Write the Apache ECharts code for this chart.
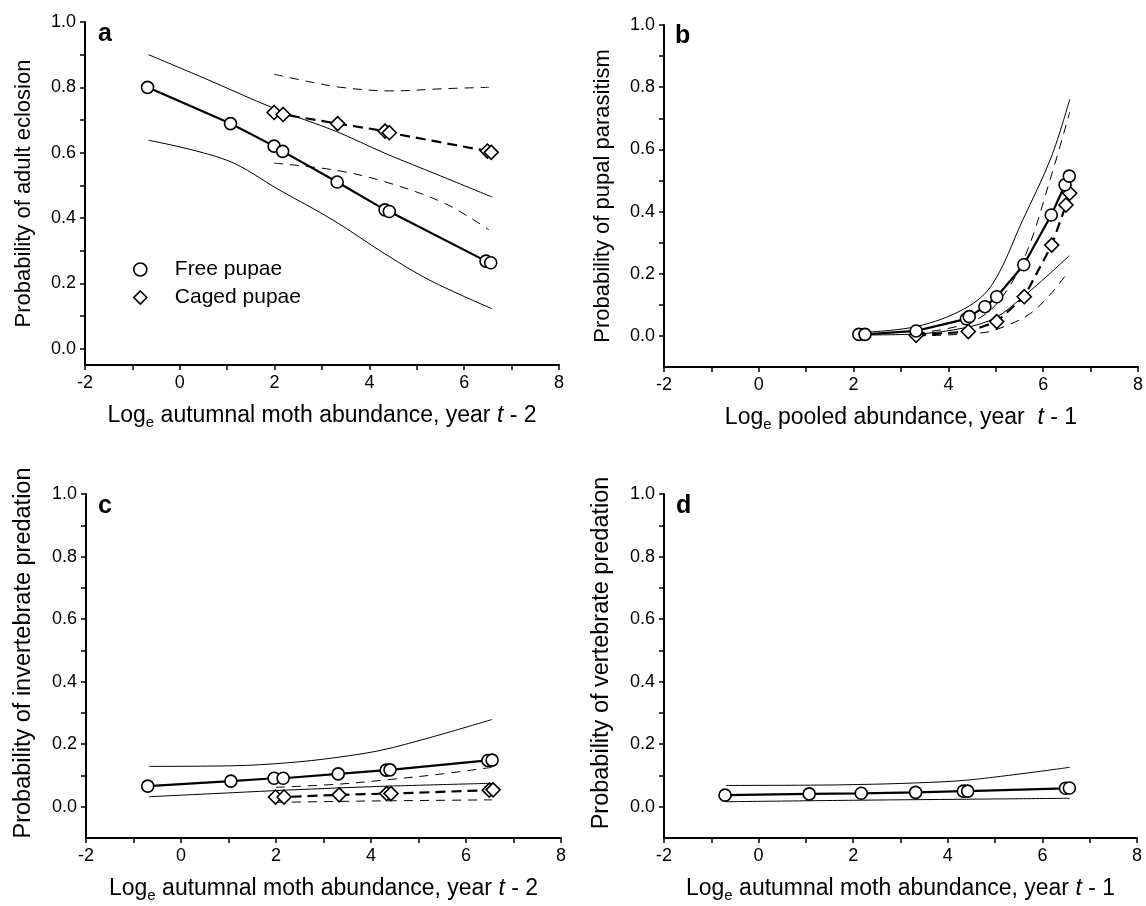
<!DOCTYPE html>
<html>
<head>
<meta charset="utf-8">
<script src="https://cdn.jsdelivr.net/npm/echarts@6/dist/echarts.min.js"></script>
<style>
html,body{margin:0;padding:0;background:#fff;}
#chart{width:1146px;height:906px;}
</style>
</head>
<body>
<div id="chart"></div>
<script>
// ---------- tick values ----------
const xTicks = [-2, -1, 0, 1, 2, 3, 4, 5, 6, 7, 8];
const xLabels = [-2, 0, 2, 4, 6, 8];
const yTicks = [0, 0.1, 0.2, 0.3, 0.4, 0.5, 0.6, 0.7, 0.8, 0.9, 1.0];
const yLabels = [0, 0.2, 0.4, 0.6, 0.8, 1.0];

// ---------- panel a : adult eclosion ----------
const aFree = [[-0.68,0.800],[1.07,0.689],[1.99,0.620],[2.17,0.604],[3.32,0.510],[4.33,0.425],[4.42,0.420],[6.46,0.268],[6.56,0.263]];
const aFreeUpper = [[-0.66,0.900],[0.5,0.829],[2.0,0.735],[3.3,0.665],[4.33,0.598],[5.5,0.529],[6.59,0.464]];
const aFreeLower = [[-0.66,0.638],[0.99,0.577],[2.11,0.485],[3.24,0.393],[4.33,0.290],[5.28,0.209],[6.59,0.122]];
const aCaged = [[1.99,0.723],[2.18,0.717],[3.33,0.689],[4.33,0.666],[4.42,0.661],[6.49,0.605],[6.57,0.601]];
const aCagedUpper = [[1.99,0.840],[2.7,0.818],[3.4,0.800],[4.44,0.789],[5.6,0.796],[6.52,0.800]];
const aCagedLower = [[1.99,0.568],[3.3,0.546],[4.35,0.510],[5.6,0.444],[6.52,0.364]];

// ---------- panel b : pupal parasitism ----------
const bFree = [[2.11,0.005],[2.24,0.005],[3.32,0.016],[4.38,0.055],[4.44,0.062],[4.77,0.094],[5.02,0.126],[5.59,0.229],[6.17,0.389],[6.46,0.486],[6.55,0.514]];
const bFreeUpper = [[2.12,0.011],[3.32,0.030],[4.37,0.090],[4.93,0.167],[5.56,0.370],[6.17,0.575],[6.56,0.761]];
const bFreeLower = [[2.2,0.003],[3.32,0.006],[4.37,0.027],[5.0,0.059],[5.56,0.124],[6.1,0.195],[6.55,0.258]];
const bCaged = [[3.32,0.002],[4.42,0.014],[5.02,0.046],[5.6,0.126],[6.18,0.292],[6.48,0.421],[6.56,0.459]];
const bCagedUpper = [[3.32,0.008],[4.4,0.040],[5.0,0.100],[5.6,0.250],[6.18,0.520],[6.56,0.720]];
const bCagedLower = [[3.32,0.000],[4.76,0.011],[5.21,0.032],[5.71,0.070],[6.13,0.130],[6.55,0.210]];

// ---------- panel c : invertebrate predation ----------
const cFree = [[-0.70,0.066],[1.05,0.082],[1.96,0.091],[2.15,0.091],[3.31,0.105],[4.32,0.117],[4.40,0.118],[6.46,0.148],[6.55,0.149]];
const cFreeUpper = [[-0.67,0.129],[1.1,0.131],[2.2,0.140],[3.3,0.158],[4.4,0.187],[6.55,0.279]];
const cFreeLower = [[-0.67,0.032],[1.1,0.045],[2.2,0.053],[3.3,0.060],[4.4,0.066],[6.55,0.075]];
const cCaged = [[1.99,0.031],[2.17,0.031],[3.33,0.038],[4.33,0.042],[4.42,0.042],[6.49,0.053],[6.57,0.054]];
const cCagedUpper = [[2.0,0.062],[3.3,0.072],[4.33,0.086],[5.5,0.105],[6.55,0.126]];
const cCagedLower = [[2.0,0.014],[3.3,0.017],[4.4,0.019],[6.55,0.022]];

// ---------- panel d : vertebrate predation ----------
const dFree = [[-0.71,0.037],[1.07,0.041],[2.17,0.043],[3.32,0.046],[4.33,0.050],[4.42,0.050],[6.49,0.059],[6.57,0.060]];
const dFreeUpper = [[-0.69,0.068],[1.1,0.069],[2.1,0.071],[3.3,0.076],[4.47,0.086],[6.58,0.126]];
const dFreeLower = [[-0.69,0.016],[2.2,0.021],[4.4,0.024],[6.58,0.027]];

// ---------- texts ----------
const yTitles = ['Probability of adult eclosion','Probability of pupal parasitism','Probability of invertebrate predation','Probability of vertebrate predation'];
const xTitles = [
  '{n|Log}{s|e}{n| autumnal moth abundance, year }{i|t}{n| - 2}',
  '{n|Log}{s|e}{n| pooled abundance, year  }{i|t}{n| - 1}',
  '{n|Log}{s|e}{n| autumnal moth abundance, year }{i|t}{n| - 2}',
  '{n|Log}{s|e}{n| autumnal moth abundance, year }{i|t}{n| - 1}'
];
const panelLetters = ['a','b','c','d'];
const legendNames = ['Free pupae','Caged pupae'];

const FONT = '"Liberation Sans", Arial, Helvetica, sans-serif';
const grids = [
  {left:85, top:22, width:474, height:343},
  {left:664, top:25, width:475, height:342},
  {left:86, top:494, width:475, height:344},
  {left:664, top:494, width:473, height:344}
];
const yMins = [-0.05, -0.1, -0.1, -0.1];
const yTitleSize = [22, 22, 23.5, 23.5];
const yTitlePad = [[0,0,0,0],[0,0,0,0],[0,0,0,26],[0,0,0,26]];

const rich = {
  n:{fontSize:23, fontFamily:FONT, color:'#000'},
  s:{fontSize:15, fontFamily:FONT, color:'#000', padding:[13,0,0,0]},
  i:{fontSize:23, fontFamily:FONT, color:'#000', fontStyle:'italic'}
};

const xAxes = grids.map((g,i)=>({
  gridIndex:i, type:'value', min:-2, max:8,
  axisLine:{onZero:false, lineStyle:{color:'#000', width:2}},
  axisTick:{customValues:xTicks, length:5, lineStyle:{color:'#000', width:1.5}},
  axisLabel:{customValues:xLabels, color:'#000', fontSize:18, fontFamily:FONT, margin:9},
  splitLine:{show:false},
  name:xTitles[i], nameLocation:'middle', nameGap:37,
  nameTextStyle:{fontSize:23, fontFamily:FONT, color:'#000', rich:rich}
}));
const yAxes = grids.map((g,i)=>({
  gridIndex:i, type:'value', min:yMins[i], max:1,
  axisLine:{onZero:false, lineStyle:{color:'#000', width:2}},
  axisTick:{customValues:yTicks, length:5, lineStyle:{color:'#000', width:1.5}},
  axisLabel:{customValues:yLabels, color:'#000', fontSize:18, fontFamily:FONT, margin:9,
    formatter:v=>v.toFixed(1)},
  splitLine:{show:false},
  name:yTitles[i], nameLocation:'middle', nameGap:50,
  nameTextStyle:{fontSize:yTitleSize[i], fontFamily:FONT, color:'#000', padding:yTitlePad[i]}
}));

function fit(data, idx, symbol, dashed, name){
  return {type:'line', name:name, xAxisIndex:idx, yAxisIndex:idx, data:data,
    symbol:symbol, symbolSize: symbol==='diamond'?14:12, showAllSymbol:true,
    itemStyle:{color:'#fff', borderColor:'#000', borderWidth:1.6},
    lineStyle:{color:'#000', width:2.2, type: dashed?[10,6]:'solid'},
    z:5, silent:true, animation:false};
}
function ci(data, idx, dashed){
  return {type:'line', xAxisIndex:idx, yAxisIndex:idx, data:data, symbol:'none',
    smooth:0.35, lineStyle:{color:'#000', width:1, type: dashed?[9,7]:'solid'},
    z:2, silent:true, animation:false};
}

const series = [
  ci(aFreeUpper,0,false), ci(aFreeLower,0,false), ci(aCagedUpper,0,true), ci(aCagedLower,0,true),
  fit(aCaged,0,'diamond',true,legendNames[1]), fit(aFree,0,'circle',false,legendNames[0]),
  ci(bFreeUpper,1,false), ci(bFreeLower,1,false), ci(bCagedUpper,1,true), ci(bCagedLower,1,true),
  fit(bCaged,1,'diamond',true,'b caged'), fit(bFree,1,'circle',false,'b free'),
  ci(cFreeUpper,2,false), ci(cFreeLower,2,false), ci(cCagedUpper,2,true), ci(cCagedLower,2,true),
  fit(cCaged,2,'diamond',true,'c caged'), fit(cFree,2,'circle',false,'c free'),
  ci(dFreeUpper,3,false), ci(dFreeLower,3,false),
  fit(dFree,3,'circle',false,'d free')
];

const letterPos = [[98,22],[675,24],[98,494],[676,494]];
const graphics = panelLetters.map((t,i)=>({
  type:'text', left:letterPos[i][0], top:letterPos[i][1],
  style:{text:t, fontSize:25, fontWeight:'bold', fontFamily:FONT, fill:'#000'}
}));

const chart = echarts.init(document.getElementById('chart'), null, {renderer:'canvas'});
chart.setOption({
  animation:false,
  backgroundColor:'#fff',
  grid:grids,
  xAxis:xAxes,
  yAxis:yAxes,
  legend:{
    left:128, top:254, orient:'vertical', itemGap:7, itemWidth:13, itemHeight:13,
    data:[{name:legendNames[0], icon:'circle'},{name:legendNames[1], icon:'diamond'}],
    itemStyle:{color:'#fff', borderColor:'#000', borderWidth:1.6},
    textStyle:{fontSize:21, fontFamily:FONT, color:'#000', padding:[0,0,0,23]},
    selectedMode:false
  },
  graphic:graphics,
  series:series
});
</script>
</body>
</html>
